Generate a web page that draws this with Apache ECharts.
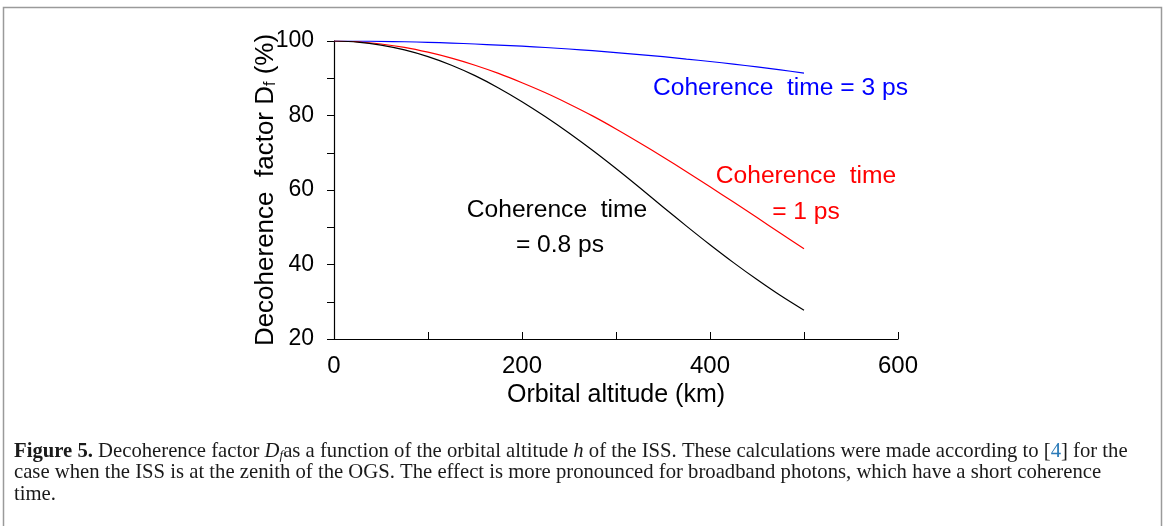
<!DOCTYPE html>
<html>
<head>
<meta charset="utf-8">
<script src="https://cdn.jsdelivr.net/npm/echarts@6/dist/echarts.min.js"></script>
<style>
html,body{margin:0;padding:0;background:#fff;}
#c{width:1165px;height:526px;}
</style>
</head>
<body>
<div id="c"></div>
<script>
// Orbital altitude (km)
const altitude = [0,25,50,75,100,125,150,175,200,225,250,275,300,325,350,375,400,425,450,475,500];
// Decoherence factor Df (%)
const df08ps = [100,99.7,98.9,97.6,95.8,93.5,90.7,87.4,83.7,79.65,75.3,70.65,65.75,60.65,55.45,50.3,45.3,40.5,35.95,31.65,27.7];
const df1ps  = [100,99.8,99.2,98.3,97.0,95.4,93.5,91.3,88.8,86.1,83.1,79.9,76.4,72.7,68.85,64.9,60.85,56.75,52.6,48.4,44.2];
const df3ps  = [100,99.98,99.9,99.8,99.65,99.45,99.2,98.9,98.6,98.25,97.85,97.4,96.9,96.35,95.8,95.15,94.5,93.8,93.05,92.25,91.4];
const xTicks = [0,200,400,600];
const yTicks = [20,40,60,80,100];

const pair = arr => altitude.map((h,i)=>[h,arr[i]]);
const SANS = 'Liberation Sans';
const SERIF = 'Liberation Serif';
const CAP = 20.7;

const chart = echarts.init(document.getElementById('c'), null, {renderer:'canvas'});
chart.setOption({
  backgroundColor:'#fff',
  animation:false,
  grid:{left:334, right:267, top:41, bottom:187, containLabel:false},
  xAxis:{
    type:'value', min:0, max:600, interval:100,
    name:'Orbital altitude (km)', nameLocation:'middle', nameGap:44, nameMoveOverlap:false,
    nameTextStyle:{fontFamily:SANS, fontSize:25, color:'#000'},
    axisLine:{show:true, lineStyle:{color:'#000', width:1.2}},
    axisTick:{show:true, inside:true, length:7, lineStyle:{color:'#000', width:1}},
    axisLabel:{margin:15, fontFamily:SANS, fontSize:24, color:'#000',
      formatter:v=> xTicks.indexOf(v)>=0 ? String(v) : ''},
    splitLine:{show:false}
  },
  yAxis:{
    type:'value', min:20, max:100, interval:10,
    name:'Decoherence  factor D{sub|f} (%)', nameLocation:'middle', nameGap:55, nameRotate:90, nameMoveOverlap:false,
    nameTextStyle:{fontFamily:SANS, fontSize:26, color:'#000',
      rich:{sub:{fontFamily:SANS, fontSize:16, color:'#000', verticalAlign:'bottom'}}},
    axisLine:{show:true, lineStyle:{color:'#000', width:1.2}},
    axisTick:{show:true, inside:false, length:7, lineStyle:{color:'#000', width:1}},
    axisLabel:{margin:20, fontFamily:SANS, fontSize:23, color:'#000',
      formatter:v=> yTicks.indexOf(v)>=0 ? String(v) : ''},
    splitLine:{show:false}
  },
  series:[
    {type:'line', name:'3 ps', data:pair(df3ps), showSymbol:false, smooth:0.3,
     lineStyle:{color:'#0000ff', width:1.2}},
    {type:'line', name:'1 ps', data:pair(df1ps), showSymbol:false, smooth:0.3,
     lineStyle:{color:'#ff0000', width:1.2}},
    {type:'line', name:'0.8 ps', data:pair(df08ps), showSymbol:false, smooth:0.3,
     lineStyle:{color:'#000000', width:1.2}}
  ],
  graphic:[
    {type:'rect', silent:true, shape:{x:3.5, y:7.5, width:1158, height:540},
     style:{fill:null, stroke:'#9a9a9a', lineWidth:1.5}},
    {type:'text', x:653, y:88, style:{text:'Coherence  time = 3 ps', font:'24.6px "Liberation Sans"', fill:'#0000ff', textVerticalAlign:'middle'}},
    {type:'text', x:806, y:176, style:{text:'Coherence  time', font:'24.6px "Liberation Sans"', fill:'#ff0000', textAlign:'center', textVerticalAlign:'middle'}},
    {type:'text', x:806, y:212, style:{text:'= 1 ps', font:'24.6px "Liberation Sans"', fill:'#ff0000', textAlign:'center', textVerticalAlign:'middle'}},
    {type:'text', x:557, y:210, style:{text:'Coherence  time', font:'24.6px "Liberation Sans"', fill:'#000', textAlign:'center', textVerticalAlign:'middle'}},
    {type:'text', x:560, y:245, style:{text:'= 0.8 ps', font:'24.6px "Liberation Sans"', fill:'#000', textAlign:'center', textVerticalAlign:'middle'}},
    {type:'text', x:14, y:452, style:{
      text:'{b|Figure 5.} Decoherence factor {i|D}{isub|f}as a function of the orbital altitude {i|h} of the ISS. These calculations were made according to [{blue|4}] for the',
      fontFamily:SERIF, fontSize:CAP, fill:'#1a1a1a', textVerticalAlign:'middle',
      rich:{
        b:{fontFamily:SERIF, fontSize:CAP, fontWeight:'bold', fill:'#1a1a1a'},
        i:{fontFamily:SERIF, fontSize:CAP, fontStyle:'italic', fill:'#1a1a1a'},
        isub:{fontFamily:SERIF, fontSize:13, fontStyle:'italic', fill:'#1a1a1a', verticalAlign:'bottom'},
        blue:{fontFamily:SERIF, fontSize:CAP, fill:'#2a7ab8'}
      }}},
    {type:'text', x:14, y:473, style:{
      text:'case when the ISS is at the zenith of the OGS. The effect is more pronounced for broadband photons, which have a short coherence',
      fontFamily:SERIF, fontSize:CAP, fill:'#1a1a1a', textVerticalAlign:'middle'}},
    {type:'text', x:14, y:495, style:{
      text:'time.', fontFamily:SERIF, fontSize:CAP, fill:'#1a1a1a', textVerticalAlign:'middle'}}
  ]
});
</script>
</body>
</html>
